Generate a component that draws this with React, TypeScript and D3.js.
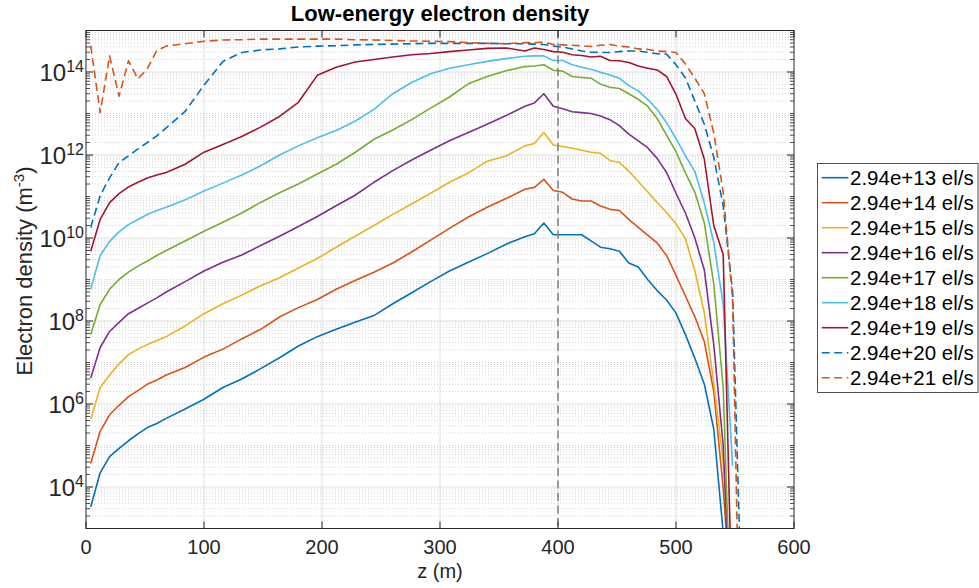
import React from "react";
import * as d3 from "d3";

// z positions (m)
const Z_M = [4, 12, 20, 28, 36, 44, 52, 60, 68,
  84, 100, 116, 132, 148, 164, 180, 196, 212, 228, 244, 260, 276, 292, 308, 324, 340, 356, 372,
  380, 388, 396, 404, 412, 420, 428, 436, 444, 452, 460, 468, 476, 484, 492, 500, 508, 516, 524, 532, 540, 548, 556];

// electron density (m^-3) per source rate
const N_E13 = [3.3e3, 2.2e4, 5.4e4, 8.5e4, 1.3e5, 1.9e5, 2.7e5, 3.4e5, 4.5e5,
  7.6e5, 1.3e6, 2.5e6, 4.0e6, 7.1e6, 1.3e7, 2.5e7, 4.2e7, 6.3e7, 9.3e7, 1.35e8, 2.6e8, 4.8e8, 8.9e8, 1.6e9, 2.6e9, 4.2e9, 7.1e9, 1.07e10,
  1.26e10, 2.3e10, 1.2e10, 1.2e10, 1.2e10, 1.2e10, 8.5e9, 6.0e9, 5.5e9, 4.8e9, 2.5e9, 2.0e9, 1.0e9, 5.4e8, 3.2e8, 1.55e8, 4.7e7, 1.26e7, 3.0e6, 2.5e5, 8e2, null, null];
const N_E14 = [3.7e4, 2.2e5, 5.5e5, 9.3e5, 1.5e6, 2.1e6, 3.0e6, 3.8e6, 5.0e6,
  7.6e6, 1.35e7, 2.1e7, 3.7e7, 6.3e7, 1.25e8, 2.1e8, 3.3e8, 5.8e8, 9.5e8, 1.5e9, 2.5e9, 4.6e9, 8.9e9, 1.7e10, 3.2e10, 5.5e10, 8.9e10, 1.5e11,
  1.66e11, 2.6e11, 1.4e11, 1.26e11, 8.7e10, 7.8e10, 7.8e10, 5.9e10, 4.9e10, 4.6e10, 2.8e10, 1.8e10, 1.17e10, 7.6e9, 3.8e9, 1.26e9, 4.0e8, 1.26e8, 3.2e7, 2.0e6, 9.5e3, 5e0, null];
const N_E15 = [4.3e5, 2.5e6, 5.0e6, 9.3e6, 1.55e7, 2.1e7, 2.7e7, 3.4e7, 4.2e7,
  7.6e7, 1.5e8, 2.6e8, 4.2e8, 7.1e8, 1.1e9, 1.9e9, 3.2e9, 6.0e9, 1.1e10, 2.0e10, 3.7e10, 6.6e10, 1.2e11, 2.2e11, 3.7e11, 7.1e11, 9.5e11, 1.66e12,
  1.9e12, 3.5e12, 1.74e12, 1.6e12, 1.45e12, 1.3e12, 1.17e12, 1.1e12, 7.4e11, 6.6e11, 4.1e11, 2.3e11, 1.3e11, 7.2e10, 4.1e10, 2.2e10, 9.5e9, 1.6e9, 1.6e8, 3.2e6, 4.0e4, 1.6e1, null];
const N_E16 = [4.2e6, 2.3e7, 5.6e7, 9.3e7, 1.5e8, 2.0e8, 2.7e8, 3.6e8, 5.0e8,
  8.9e8, 1.6e9, 2.6e9, 3.9e9, 6.6e9, 1.1e10, 1.9e10, 3.3e10, 6.0e10, 1.07e11, 2.2e11, 4.2e11, 7.6e11, 1.3e12, 2.2e12, 3.5e12, 5.5e12, 8.9e12, 1.5e13,
  1.8e13, 3.0e13, 1.5e13, 1.3e13, 1.1e13, 1.05e13, 1.0e13, 8.7e12, 7.1e12, 5.1e12, 3.2e12, 2.2e12, 1.5e12, 8.3e11, 3.8e11, 1.2e11, 4.0e10, 1.0e10, 1.7e9, 2.7e7, 1.0e5, 5e-1, null];
const N_E17 = [4.7e7, 2.5e8, 5.8e8, 1.0e9, 1.5e9, 2.1e9, 2.8e9, 3.8e9, 5.0e9,
  8.5e9, 1.45e10, 2.4e10, 4.0e10, 7.2e10, 1.23e11, 2.0e11, 3.5e11, 6.0e11, 1.15e12, 2.4e12, 4.0e12, 7.1e12, 1.35e13, 2.5e13, 5.2e13, 7.8e13, 1.07e14, 1.35e14,
  1.4e14, 1.5e14, 1.1e14, 1.05e14, 7.8e13, 7.4e13, 7.1e13, 5.1e13, 4.3e13, 4.0e13, 3.0e13, 2.2e13, 1.5e13, 7.6e12, 3.0e12, 1.2e12, 3.7e11, 1.26e11, 2.3e10, 7.9e8, 2.5e6, 3e-1, null];
const N_E18 = [5.8e8, 3.8e9, 8.3e9, 1.4e10, 2.1e10, 2.8e10, 3.7e10, 4.6e10, 5.5e10,
  8.3e10, 1.35e11, 2.1e11, 3.3e11, 5.5e11, 1.0e12, 1.66e12, 2.6e12, 3.9e12, 6.5e12, 1.26e13, 3.0e13, 5.6e13, 9.1e13, 1.23e14, 1.5e14, 1.8e14, 2.1e14, 2.4e14,
  2.45e14, 2.45e14, 1.9e14, 1.9e14, 1.5e14, 1.3e14, 1.17e14, 9.8e13, 8.5e13, 7.1e13, 4.7e13, 3.5e13, 2.2e13, 1.26e13, 6.0e12, 2.5e12, 9.5e11, 4.0e11, 6.9e10, 7.9e9, 2.5e8, 3.2e4, null];
const N_E19 = [4.8e9, 2.8e10, 7.1e10, 1.17e11, 1.7e11, 2.2e11, 2.8e11, 3.3e11, 3.8e11,
  6.0e11, 1.17e12, 1.8e12, 2.8e12, 4.7e12, 8.5e12, 1.86e13, 8.3e13, 1.3e14, 1.74e14, 2.0e14, 2.3e14, 2.6e14, 2.8e14, 3.1e14, 3.4e14, 3.7e14, 3.8e14, 3.2e14,
  3.8e14, 3.5e14, 3.1e14, 3.0e14, 2.6e14, 2.5e14, 2.3e14, 2.4e14, 1.9e14, 1.86e14, 1.7e14, 1.4e14, 1.23e14, 1.12e14, 7.8e13, 2.9e13, 7.6e12, 4.3e12, 7.9e11, 2.0e10, 4.0e9, 3e0, null];
const N_E20 = [1.8e10, 1.05e11, 2.8e11, 6.6e11, 9.5e11, 1.4e12, 2.0e12, 2.9e12, 4.5e12,
  1.12e13, 4.8e13, 1.8e14, 2.95e14, 3.4e14, 3.6e14, 4.0e14, 4.2e14, 4.3e14, 4.5e14, 4.6e14, 4.7e14, 4.8e14, 4.9e14, 4.9e14, 4.9e14, 4.9e14, 4.8e14, 4.8e14,
  4.7e14, 4.6e14, 4.2e14, 4.0e14, 3.6e14, 3.2e14, 3.0e14, 2.95e14, 2.95e14, 3.1e14, 3.2e14, 3.2e14, 3.0e14, 2.75e14, 2.7e14, 1.5e14, 7.2e13, 2.0e13, 5.5e12, 8.9e11, 5.9e10, 5.0e8, 4.6e0];
const N_E21 = [4.3e14, 1.05e13, 2.45e14, 2.6e13, 1.86e14, 6.8e13, 1.2e14, 3.3e14, 4.2e14,
  4.8e14, 5.5e14, 5.9e14, 6.0e14, 6.2e14, 6.2e14, 6.2e14, 6.2e14, 6.2e14, 6.0e14, 5.9e14, 5.75e14, 5.6e14, 5.5e14, 5.4e14, 5.1e14, 4.9e14, 4.8e14, 5.1e14,
  5.1e14, 5.25e14, 4.6e14, 4.5e14, 4.4e14, 4.3e14, 4.1e14, 4.4e14, 4.6e14, 4.2e14, 4.0e14, 3.6e14, 3.5e14, 3.2e14, 3.1e14, 2.95e14, 1.55e14, 7.1e13, 3.0e13, 3.4e12, 1.26e11, 3.2e8, 1e-3];

const LEGEND_LABELS = ["2.94e+13 el/s", "2.94e+14 el/s", "2.94e+15 el/s", "2.94e+16 el/s", "2.94e+17 el/s",
  "2.94e+18 el/s", "2.94e+19 el/s", "2.94e+20 el/s", "2.94e+21 el/s"];
const X_TICKS = [0, 100, 200, 300, 400, 500, 600];
const Y_TICK_EXPONENTS = [4, 6, 8, 10, 12, 14];
const MARKER_Z = 400;

const COLORS = ["#0072BD", "#D95319", "#EDB120", "#7E2F8E", "#77AC30", "#4DBEEE", "#A2142F", "#0072BD", "#D95319"];
const DASHED = [false, false, false, false, false, false, false, true, true];
const SERIES_VALUES = [N_E13, N_E14, N_E15, N_E16, N_E17, N_E18, N_E19, N_E20, N_E21];

const FONT = "'Liberation Sans', Arial, Helvetica, sans-serif";
const L = 86, R = 794, T = 30.5, B = 528.5;
const AX = "#262626";

export default function App() {
  const x = d3.scaleLinear().domain([0, 600]).range([L, R]);
  const y = d3.scaleLog().domain([1e3, 1e15]).range([B, T]);

  const line = d3.line<[number, number | null]>()
    .defined((d) => d[1] != null)
    .x((d) => x(d[0]))
    .y((d) => y(d[1] as number));

  const minorVals: number[] = [];
  const majorVals = Y_TICK_EXPONENTS.map((e) => Math.pow(10, e));
  for (let n = 3; n <= 14; n++) {
    for (let k = 1; k <= 9; k++) {
      const v = k * Math.pow(10, n);
      if (n === 3 && k === 1) continue;
      if (k === 1 && Y_TICK_EXPONENTS.includes(n)) continue;
      minorVals.push(v);
    }
  }

  const paths = SERIES_VALUES.map((vals) => line(Z_M.map((z, i) => [z, vals[i]] as [number, number | null])) || "");

  const legX = 817.5, legY = 163.5, rowH = 25, row0 = 177.7;

  return (
    <svg width={979} height={588} style={{ position: "absolute", left: 0, top: 0, background: "#fff" }} fontFamily={FONT}>
      <rect x={0} y={0} width={979} height={588} fill="#fff" />
      <defs>
        <clipPath id="plotClip">
          <rect x={L} y={T} width={R - L} height={B - T} />
        </clipPath>
      </defs>
      <rect x={L} y={T} width={R - L} height={B - T} fill="#fff" />
      {/* minor grid */}
      {minorVals.map((v, i) => (
        <line key={"mg" + i} x1={L} x2={R} y1={y(v)} y2={y(v)} stroke="#c2c2c2" strokeWidth={0.7} strokeDasharray="1,2" />
      ))}
      {/* major grid */}
      {majorVals.map((v, i) => (
        <line key={"Mg" + i} x1={L} x2={R} y1={y(v)} y2={y(v)} stroke="#dfdfdf" strokeWidth={1} />
      ))}
      {X_TICKS.slice(1, -1).map((t) => (
        <line key={"xg" + t} x1={x(t)} x2={x(t)} y1={T} y2={B} stroke="#dfdfdf" strokeWidth={1} />
      ))}
      {/* series */}
      <g clipPath="url(#plotClip)">
        {paths.map((p, i) => (
          <path key={"s" + i} d={p} fill="none" stroke={COLORS[i]} strokeWidth={1.6}
            strokeDasharray={DASHED[i] ? "8,4.5" : undefined} strokeLinejoin="round" />
        ))}
      </g>
      {/* marker line */}
      <line x1={x(MARKER_Z)} x2={x(MARKER_Z)} y1={T} y2={B} stroke="#7f7f7f" strokeWidth={1.5} strokeDasharray="8,4.5" />
      {/* axes box */}
      <rect x={L} y={T} width={R - L} height={B - T} fill="none" stroke={AX} strokeWidth={1} />
      {/* x ticks */}
      {X_TICKS.map((t) => (
        <g key={"xt" + t}>
          <line x1={x(t)} x2={x(t)} y1={B} y2={B - 7} stroke={AX} strokeWidth={1} />
          <line x1={x(t)} x2={x(t)} y1={T} y2={T + 7} stroke={AX} strokeWidth={1} />
          <text x={x(t)} y={554} textAnchor="middle" fontSize={20} fill={AX}>{t}</text>
        </g>
      ))}
      {/* y ticks */}
      {majorVals.map((v, i) => (
        <g key={"yt" + i}>
          <line x1={L} x2={L + 7} y1={y(v)} y2={y(v)} stroke={AX} strokeWidth={1} />
          <line x1={R} x2={R - 7} y1={y(v)} y2={y(v)} stroke={AX} strokeWidth={1} />
        </g>
      ))}
      {minorVals.map((v, i) => (
        <g key={"ymt" + i}>
          <line x1={L} x2={L + 4} y1={y(v)} y2={y(v)} stroke={AX} strokeWidth={0.8} />
          <line x1={R} x2={R - 4} y1={y(v)} y2={y(v)} stroke={AX} strokeWidth={0.8} />
        </g>
      ))}
      {Y_TICK_EXPONENTS.map((e) => (
        <text key={"yl" + e} x={84} y={y(Math.pow(10, e)) + 9} textAnchor="end" fill={AX}>
          <tspan fontSize={24}>10</tspan>
          <tspan fontSize={16} dy={-9}>{e}</tspan>
        </text>
      ))}
      {/* labels */}
      <text x={(L + R) / 2} y={578} textAnchor="middle" fontSize={20} fill={AX}>z (m)</text>
      <text transform={`translate(31.5, ${271}) rotate(-90)`} textAnchor="middle" fill={AX} fontSize={22}>
        <tspan>Electron density (m</tspan>
        <tspan fontSize={15} dy={-8}>-3</tspan>
        <tspan dy={8}>)</tspan>
      </text>
      <text x={(L + R) / 2} y={21} textAnchor="middle" fontSize={22} fontWeight="bold" fill="#000">Low-energy electron density</text>
      {/* legend */}
      <rect x={legX} y={legY} width={978 - legX} height={rowH * 9 + 4} fill="#fff" stroke={AX} strokeWidth={0.8} />
      {LEGEND_LABELS.map((lab, i) => {
        const cy = row0 + rowH * i;
        return (
          <g key={"lg" + i}>
            <line x1={821.7} x2={848.3} y1={cy} y2={cy} stroke={COLORS[i]} strokeWidth={1.6}
              strokeDasharray={DASHED[i] ? "8,4.5" : undefined} />
            <text x={850} y={cy + 7} fontSize={20.5} fill="#000">{lab}</text>
          </g>
        );
      })}
    </svg>
  );
}
